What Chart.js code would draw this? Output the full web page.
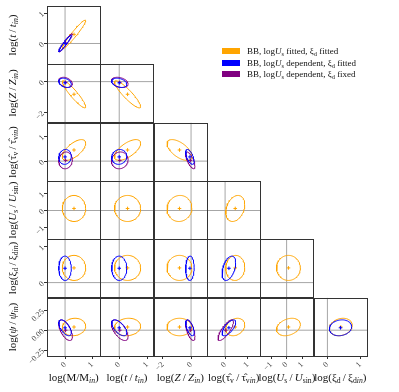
<!DOCTYPE html>
<html>
<head>
<meta charset="utf-8">
<script src="https://cdn.jsdelivr.net/npm/chart.js@4.4.0/dist/chart.umd.min.js"></script>
<style>
  body { margin: 0; background: #fff; }
  #wrap { position: relative; width: 399px; height: 392px; font-family: 'Liberation Serif', serif; color: #111; }
  #corner { position: absolute; left: 0; top: 0; }
  .title { position: absolute; white-space: nowrap; font-size: 11px; line-height: 1; }
  .title.y { transform: translate(-50%, -50%) rotate(-90deg); }
  .title.x { transform: translate(-50%, 0); }
  sub { font-size: 70%; vertical-align: -0.3em; line-height: 0; }
  #legend { position: absolute; left: 222px; top: 46px; font-size: 9px; }
  #legend div { height: 11.7px; line-height: 11.7px; white-space: nowrap; }
  #legend span.box { display: inline-block; width: 18px; height: 6px; margin-right: 7px; vertical-align: 0; }
</style>
</head>
<body>
<div id="wrap">
  <canvas id="corner" width="399" height="392"></canvas>
  <div id="legend">
    <div><span class="box" style="background:#ffa500"></span>BB, log<i>U</i><sub>s</sub> fitted, ξ<sub>d</sub> fitted</div>
    <div><span class="box" style="background:#0000ff"></span>BB, log<i>U</i><sub>s</sub> dependent, ξ<sub>d</sub> fitted</div>
    <div><span class="box" style="background:#800080"></span>BB, log<i>U</i><sub>s</sub> dependent, ξ<sub>d</sub> fixed</div>
  </div>
</div>
<script>
// parameters: M, t, Z, tauV, Us, xi_d, psi
const axisTitles = [
  'log(M/M<sub><i>in</i></sub>)',
  'log(<i>t</i>&thinsp;/&thinsp;<i>t</i><sub><i>in</i></sub>)',
  'log(<i>Z</i>&thinsp;/&thinsp;<i>Z</i><sub><i>in</i></sub>)',
  'log(τ&#770;<sub>v</sub>&thinsp;/&thinsp;τ&#770;<sub>v<i>in</i></sub>)',
  'log(<i>U</i><sub>s</sub>&thinsp;/&thinsp;<i>U</i><sub>sin</sub>)',
  'log(ξ<sub>d</sub>&thinsp;/&thinsp;ξ<sub>d<i>in</i></sub>)',
  'log(<i>ψ</i>&thinsp;/&thinsp;<i>ψ</i><sub><i>in</i></sub>)'
];
const axisMin = [-0.665, -0.68, -2.65, -0.8, -1.7, -0.42, -0.325];
const axisMax = [1.3, 1.24, 1.13, 1.56, 1.75, 1.21, 0.41];
const tickValues = [[0, 1], [0, 1], [-2, 0], [0, 1], [-1, 0, 1], [0, 1], [-0.25, 0, 0.25]];
const truthValues = [0, 0, 0, 0, 0, 0, 0];

// 1-sigma summaries per run (null = parameter not fitted)
const fittedMean = [0.33, 0.30, -0.82, 0.45, 0.12, 0.41, 0.04];
const fittedSd   = [0.43, 0.47, 0.88, 0.42, 0.77, 0.35, 0.11];
const depMean    = [0.00, 0.00, -0.08, 0.17, null, 0.40, 0.03];
const depSd      = [0.23, 0.27, 0.30, 0.30, null, 0.34, 0.10];
const fixedMean  = [0.02, 0.02, -0.05, 0.03, null, null, 0.00];
const fixedSd    = [0.25, 0.30, 0.33, 0.34, null, null, 0.13];

// correlations, panel order: (t,M) (Z,M) (Z,t) (tV,M) (tV,t) (tV,Z) (Us,M..tV) (xi,M..Us) (psi,M..xi)
const fittedCorr = [0.96, -0.92, -0.9, 0.65, 0.65, -0.6, 0, 0, 0.05, 0.3, 0, 0, 0, 0.05, 0, 0.1, 0.1, 0, 0.25, 0.3, 0.2];
const depCorr    = [0.96, -0.3, -0.3, 0.1, 0.1, -0.6, null, null, null, null, 0, 0, 0.05, 0.45, null, -0.6, -0.6, -0.6, 0.7, null, 0.15];
const fixedCorr  = [0.96, -0.3, -0.3, 0.1, 0.1, -0.7, null, null, null, null, null, null, null, null, null, -0.6, -0.6, -0.6, 0.8, null, null];

const runs = [
  { mean: fittedMean, sd: fittedSd, corr: fittedCorr, color: '#ffa500', order: 3 },
  { mean: depMean, sd: depSd, corr: depCorr, color: '#0000ff', order: 1 },
  { mean: fixedMean, sd: fixedSd, corr: fixedCorr, color: '#800080', order: 2 }
];

const panels = [];
for (let r = 1; r < 7; r++) {
  for (let c = 0; c < r; c++) panels.push([r, c]);
}

function ellipse(mx, my, sx, sy, rho) {
  const pts = [];
  const n = 72;
  const k = Math.sqrt(1 - rho * rho);
  for (let i = 0; i <= n; i++) {
    const a = 2 * Math.PI * i / n;
    pts.push({ x: mx + sx * Math.cos(a), y: my + sy * (rho * Math.cos(a) + k * Math.sin(a)) });
  }
  return pts;
}

const datasets = [];
panels.forEach(([r, c], idx) => {
  const xID = 'x' + c, yID = 'y' + r;
  const line = { showLine: true, pointRadius: 0, borderColor: '#a6a6a6', borderWidth: 1, xAxisID: xID, yAxisID: yID, order: 10 };
  datasets.push({ ...line, data: [{ x: truthValues[c], y: axisMin[r] }, { x: truthValues[c], y: axisMax[r] }] });
  datasets.push({ ...line, data: [{ x: axisMin[c], y: truthValues[r] }, { x: axisMax[c], y: truthValues[r] }] });
  runs.forEach(run => {
    if (run.mean[c] === null || run.mean[r] === null || run.corr[idx] === null) return;
    datasets.push({
      data: ellipse(run.mean[c], run.mean[r], run.sd[c], run.sd[r], run.corr[idx]),
      showLine: true, pointRadius: 0, borderColor: run.color, borderWidth: 1,
      xAxisID: xID, yAxisID: yID, order: run.order
    });
    datasets.push({
      data: [{ x: run.mean[c], y: run.mean[r] }],
      pointStyle: 'cross', pointRadius: 1.8, borderWidth: 1, borderColor: run.color,
      xAxisID: xID, yAxisID: yID, order: run.order
    });
  });
});

function fmt(v, p) {
  const s = p === 6 ? v.toFixed(2) : String(v);
  return s.replace('-', '\u2212');
}

function axisScale(p, position, stack, weight) {
  return {
    type: 'linear', position, stack, stackWeight: 1, weight,
    min: axisMin[p], max: axisMax[p],
    afterBuildTicks: s => { s.ticks = tickValues[p].map(v => ({ value: v })); },
    afterFit: s => { if (position === 'left') s.width = 18; else s.height = 17; },
    grid: { display: true, drawOnChartArea: false, drawTicks: true, tickLength: 3, color: '#333' },
    border: { display: false },
    ticks: {
      autoSkip: false, minRotation: 45, maxRotation: 45, padding: 1, color: '#444',
      font: { family: 'Liberation Serif', size: 8 },
      callback: v => fmt(v, p)
    }
  };
}

const scales = {};
for (let c = 0; c < 6; c++) scales['x' + c] = axisScale(c, 'bottom', 'cols', c + 1);
for (let r = 1; r < 7; r++) scales['y' + r] = axisScale(r, 'left', 'rows', 8 - r);

const framePlugin = {
  id: 'frames',
  afterDatasetsDraw(chart) {
    const ctx = chart.ctx;
    ctx.save();
    ctx.strokeStyle = '#333';
    ctx.lineWidth = 1;
    panels.forEach(([r, c]) => {
      const xs = chart.scales['x' + c], ys = chart.scales['y' + r];
      ctx.strokeRect(Math.round(xs.left) + 0.5, Math.round(ys.top) + 0.5,
        Math.round(xs.right - xs.left), Math.round(ys.bottom - ys.top));
    });
    ctx.restore();
  }
};

const chart = new Chart(document.getElementById('corner'), {
  type: 'scatter',
  data: { datasets },
  options: {
    responsive: false,
    animation: false,
    devicePixelRatio: 1,
    events: [],
    layout: { padding: { left: 29, top: 4, right: 32, bottom: 19 } },
    plugins: { legend: { display: false }, tooltip: { enabled: false } },
    scales
  },
  plugins: [framePlugin]
});

// axis titles as html text placed from the scale bands
const wrap = document.getElementById('wrap');
for (let c = 0; c < 6; c++) {
  const s = chart.scales['x' + c];
  const d = document.createElement('div');
  d.className = 'title x';
  d.innerHTML = axisTitles[c];
  d.style.left = ((s.left + s.right) / 2) + 'px';
  d.style.top = '372px';
  wrap.appendChild(d);
}
for (let r = 1; r < 7; r++) {
  const s = chart.scales['y' + r];
  const d = document.createElement('div');
  d.className = 'title y';
  d.innerHTML = axisTitles[r];
  d.style.left = '12px';
  d.style.top = ((s.top + s.bottom) / 2) + 'px';
  wrap.appendChild(d);
}
</script>
</body>
</html>
